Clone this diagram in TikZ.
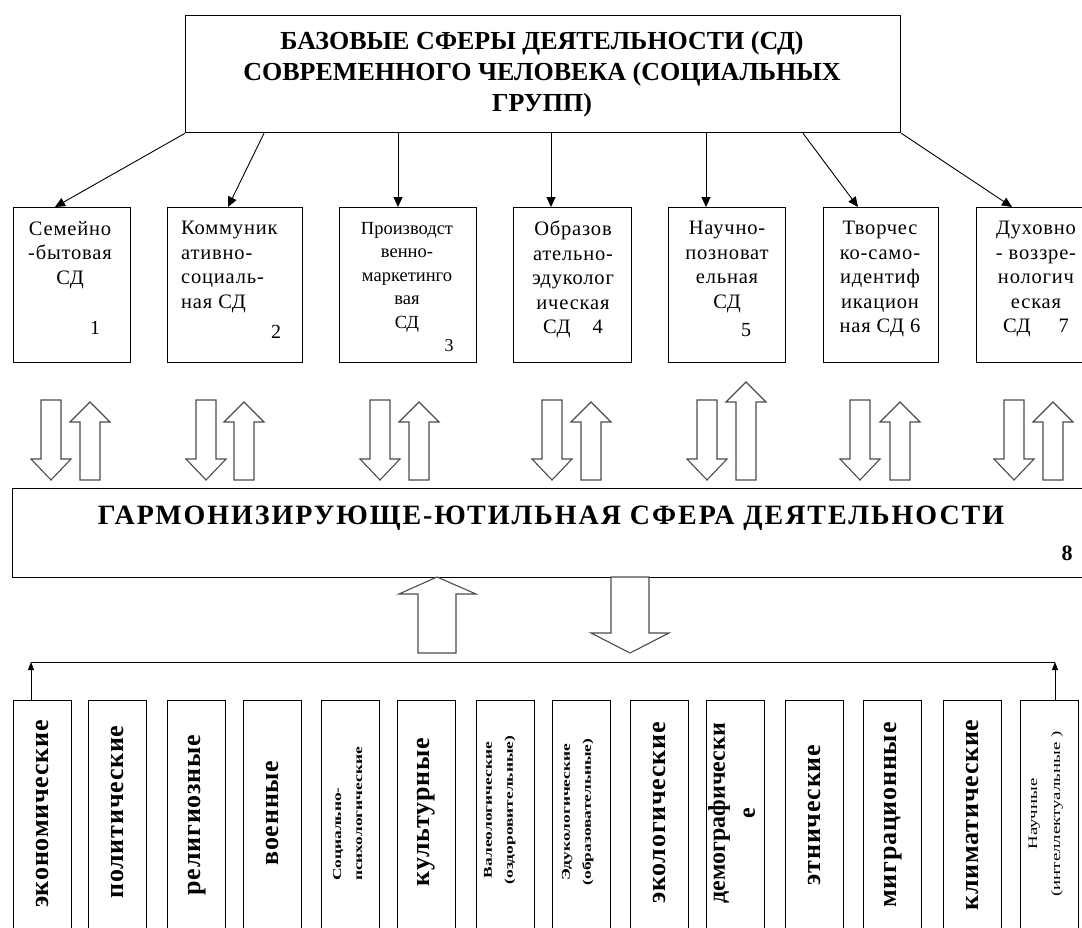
\documentclass[tikz,border=0pt]{standalone}
\usepackage{fontspec}
\setmainfont{Liberation Serif}[BoldFont={Liberation Serif Bold}]
\newfontfamily\boxfnt{Liberation Serif}[LetterSpace=4,BoldFont={Liberation Serif Bold}]
\newfontfamily\wideboldfnt{Liberation Serif Bold}[LetterSpace=3]
\newfontfamily\plainboldfnt{Liberation Serif Bold}
\newfontfamily\midfnt{Liberation Serif Bold}[LetterSpace=7]
\newfontfamily\stretchfnt{Liberation Serif}[FakeStretch=1.45]
\newfontfamily\stretchboldfnt{Liberation Serif Bold}[FakeStretch=1.45]
\usetikzlibrary{arrows.meta,calc}
\begin{document}
\begin{tikzpicture}[x=1pt,y=-1pt,
  box/.style={draw,line width=1.3pt,inner sep=0pt,anchor=north west},
  con/.style={line width=0.9pt,-{Triangle[length=10pt,width=9pt]}},
  tick/.style={line width=0.9pt,-{Triangle[length=8pt,width=6pt]}},
  blk/.style={draw=black!70,line width=1.1pt,fill=white,line join=miter},
  stxt/.style={font=\boxfnt\fontsize{20.5}{24.5}\selectfont,inner sep=0pt,anchor=north},
  vtxt/.style={font=\wideboldfnt\fontsize{26}{26}\selectfont,rotate=90,inner sep=0pt},
  vsmall/.style={font=\stretchboldfnt\fontsize{12}{21}\selectfont,rotate=90,inner sep=0pt,align=center}]
\useasboundingbox (0,0) rectangle (1082,927);

% top box
\node[box,minimum width=715pt,minimum height=117pt] (top) at (185,15) {};
\node[font=\plainboldfnt\fontsize{26}{31}\selectfont,align=center,anchor=north,inner sep=0pt] (toptext) at (542,31)
  {БАЗОВЫЕ СФЕРЫ ДЕЯТЕЛЬНОСТИ (СД)\\СОВРЕМЕННОГО ЧЕЛОВЕКА (СОЦИАЛЬНЫХ\\ГРУПП)};

% small boxes
\node[box,minimum width=117pt,minimum height=155pt] (s1) at (13,207) {};
\node[box,minimum width=135pt,minimum height=155pt] (s2) at (167,207) {};
\node[box,minimum width=137pt,minimum height=155pt] (s3) at (339,207) {};
\node[box,minimum width=118pt,minimum height=155pt] (s4) at (513,207) {};
\node[box,minimum width=117pt,minimum height=155pt] (s5) at (668,207) {};
\node[box,minimum width=115pt,minimum height=155pt] (s6) at (823,207) {};
\node[box,minimum width=120pt,minimum height=155pt] (s7) at (976,207) {};

\node[stxt,align=center] (t1) at (70,221) {Семейно\\-бытовая\\СД};
\node[font=\fontsize{20}{20}\selectfont,inner sep=0pt] (n1) at (95,328) {1};
\node[stxt,align=left,anchor=north west] (t2) at (181,221) {Коммуник\\ативно-\\социаль-\\ная СД};
\node[font=\fontsize{20}{20}\selectfont,inner sep=0pt] (n2) at (276,332) {2};
\node[font=\fontsize{18.5}{23.5}\selectfont,align=center,anchor=north,inner sep=0pt] (t3) at (407,222) {Производст\\венно-\\маркетинго\\вая\\СД};
\node[font=\fontsize{18}{18}\selectfont,inner sep=0pt] (n3) at (449,346) {3};
\node[stxt,align=center] (t4) at (573,221) {Образов\\ательно-\\эдуколог\\ическая\\СД\hspace{22pt}4};
\node[stxt,align=center] (t5) at (727,221) {Научно-\\позноват\\ельная\\СД};
\node[font=\fontsize{20}{20}\selectfont,inner sep=0pt] (n5) at (746,330) {5};
\node[stxt,align=center] (t6) at (880,221) {Творчес\\ко-само-\\идентиф\\икацион\\ная СД 6};
\node[stxt,align=center] (t7) at (1036,221) {Духовно\\- воззре-\\нологич\\еская\\СД\hspace{28pt}7};

% connectors from top box
\draw[con] (top.south west) -- ($(s1.north west)+(42,0)$);
\draw[con] ($(top.south west)+(79,0)$) -- ($(s2.north west)+(61,0)$);
\draw[con] ($(top.south west)+(213,0)$) -- ($(s3.north west)+(59,0)$);
\draw[con] ($(top.south west)+(366,0)$) -- ($(s4.north west)+(38,0)$);
\draw[con] ($(top.south west)+(521,0)$) -- ($(s5.north west)+(38,0)$);
\draw[con] ($(top.south west)+(618,0)$) -- ($(s6.north west)+(35,0)$);
\draw[con] (top.south east) -- ($(s7.north west)+(36,0)$);

% block arrow pairs
\foreach \d/\u/\t in {41/80/402,196/234/402,370/409/402,542/581/402,697/736/382,850/890/402,1004/1043/402}{
  \draw[blk] (\d,400) -- (\d+20,400) -- (\d+20,459) -- (\d+30,459) -- (\d+10,480) -- (\d-10,459) -- (\d,459) -- cycle;
  \draw[blk] (\u,480) -- (\u+20,480) -- (\u+20,\t+20) -- (\u+30,\t+20) -- (\u+10,\t) -- (\u-10,\t+20) -- (\u,\t+20) -- cycle;
}

% middle box
\node[box,minimum width=1080pt,minimum height=89pt] (mid) at (12,488) {};
\node[font=\midfnt\fontsize{28}{28}\selectfont,inner sep=0pt] (midtext) at (551,518)
  {ГАРМОНИЗИРУЮЩЕ-ЮТИЛЬНАЯ СФЕРА ДЕЯТЕЛЬНОСТИ};
\node[font=\plainboldfnt\fontsize{22}{22}\selectfont,inner sep=0pt] (n8) at (1067,553) {8};

% lower block arrows
\draw[blk] (418,653) -- (456,653) -- (456,594) -- (476,594) -- (437,577) -- (399,594) -- (418,594) -- cycle;
\draw[blk] (611,577) -- (649,577) -- (649,633) -- (669,633) -- (630,653) -- (591,633) -- (611,633) -- cycle;

% bottom boxes
\foreach \i/\x in {1/13,2/88,3/167,4/243,5/321,6/397,7/476,8/552,9/630,10/706,11/785,12/863,13/943,14/1020}{
  \node[box,minimum width=58pt,minimum height=240pt] (b\i) at (\x,700) {};
}
\coordinate (L) at (31,662);
\coordinate (R) at (1055,662);
\draw[line width=1pt] (L) -- (R);
\draw[tick] (L |- b1.north) -- (L);
\draw[tick] (R |- b14.north) -- (R);

\node[vtxt] (v1) at (b1.north |- 0,814) {экономические};
\node[vtxt] (v2) at (b2.north |- 0,812) {политические};
\node[vtxt] (v3) at (b3.north |- 0,815) {религиозные};
\node[vtxt] (v4) at (b4.north |- 0,813) {военные};
\node[vsmall,align=left] (v5) at ($(b5.north)+(-3,114)$) {Социально-\\психологические};
\node[vtxt] (v6) at (b6.north |- 0,812) {культурные};
\node[vsmall] (v7) at ($(b7.north)+(-6,110)$) {Валеологические\\(оздоровительные)};
\node[vsmall] (v8) at ($(b8.north)+(-4,112)$) {Эдукологические\\(образовательные)};
\node[vtxt] (v9) at (b9.north |- 0,813) {экологические};
\node[vtxt,align=center,font=\plainboldfnt\fontsize{24}{30}\selectfont] (v10) at ($(b10.north)+(-4,113)$) {демографически\\е};
\node[vtxt] (v11) at (b11.north |- 0,815) {этнические};
\node[vtxt] (v12) at (b12.north |- 0,815) {миграционные};
\node[vtxt] (v13) at (b13.north |- 0,815) {климатические};
\node[font=\stretchfnt\fontsize{13}{23}\selectfont,rotate=90,inner sep=0pt,align=center] (v14) at ($(b14.north)+(-4,114)$) {Научные\\(интеллектуальные )};
\end{tikzpicture}
\end{document}
